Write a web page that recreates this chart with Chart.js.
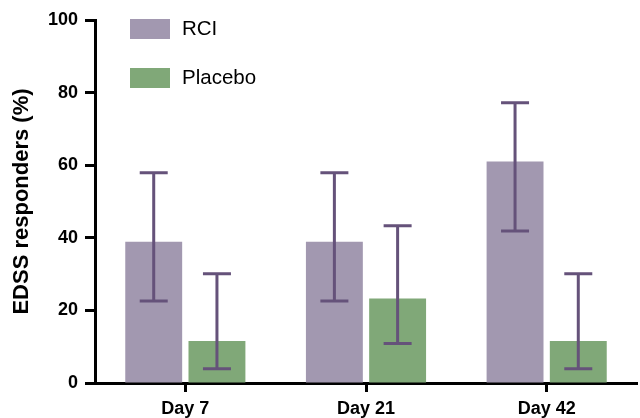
<!DOCTYPE html>
<html>
<head>
<meta charset="utf-8">
<script src="https://cdn.jsdelivr.net/npm/chart.js@4"></script>
<style>
  html, body { margin: 0; padding: 0; background: #fff; }
  #wrap { width: 640px; height: 418px; position: relative; }
</style>
</head>
<body>
<div id="wrap"><canvas id="chart"></canvas></div>
<script>
// data
const DAYS = ["Day 7", "Day 21", "Day 42"];
const RCI = [38.9, 38.9, 61.0];
const RCI_LOW = [22.6, 22.6, 41.9];
const RCI_HIGH = [57.9, 57.9, 77.2];
const PLACEBO = [11.6, 23.3, 11.6];
const PLACEBO_LOW = [3.9, 10.9, 3.9];
const PLACEBO_HIGH = [30.1, 43.3, 30.1];
const Y_TICKS = [0, 20, 40, 60, 80, 100];

const COL_RCI = "#a298b0";
const COL_PLACEBO = "#80a878";
const COL_ERR = "#65527a";
const FONT = "'Liberation Sans', Arial, sans-serif";

// ── Error bars (whiskers with caps) ─────────────────────────────────────────
const errorBars = {
  id: "errorBars",
  afterDatasetsDraw(chart) {
    const { ctx, scales: { y } } = chart;
    const ranges = [[RCI_LOW, RCI_HIGH], [PLACEBO_LOW, PLACEBO_HIGH]];
    ctx.save();
    ctx.strokeStyle = COL_ERR;
    ctx.lineWidth = 3;
    ranges.forEach(([lo, hi], di) => {
      chart.getDatasetMeta(di).data.forEach((bar, i) => {
        const x = bar.x;
        const yl = y.getPixelForValue(lo[i]);
        const yh = y.getPixelForValue(hi[i]);
        ctx.beginPath();
        ctx.moveTo(x, yl); ctx.lineTo(x, yh);
        ctx.moveTo(x - 14, yl); ctx.lineTo(x + 14, yl);
        ctx.moveTo(x - 14, yh); ctx.lineTo(x + 14, yh);
        ctx.stroke();
      });
    });
    ctx.restore();
  }
};

// ── Vertical legend inside the plot ─────────────────────────────────────────
const boxLegend = {
  id: "boxLegend",
  afterDraw(chart) {
    const { ctx } = chart;
    ctx.save();
    ctx.font = "20.5px " + FONT;
    ctx.textBaseline = "middle";
    chart.data.datasets.forEach((ds, i) => {
      const top = 19 + i * 49;
      ctx.fillStyle = ds.backgroundColor;
      ctx.fillRect(130, top, 40, 20);
      ctx.fillStyle = "#000";
      ctx.fillText(ds.label, 182, top + 10);
    });
    ctx.restore();
  }
};

new Chart(document.getElementById("chart"), {
  type: "bar",
  data: {
    labels: DAYS,
    datasets: [
      { label: "RCI", data: RCI, backgroundColor: COL_RCI, borderWidth: 0 },
      { label: "Placebo", data: PLACEBO, backgroundColor: COL_PLACEBO, borderWidth: 0 }
    ]
  },
  options: {
    responsive: true,
    maintainAspectRatio: false,
    animation: false,
    layout: { padding: { top: 20, right: 3, left: 0, bottom: 0 } },
    datasets: { bar: { barPercentage: 0.9, categoryPercentage: 0.7 } },
    scales: {
      x: {
        border: { display: true, color: "#000", width: 3 },
        grid: { display: true, offset: false, drawOnChartArea: false, drawTicks: true, tickLength: 9, tickWidth: 3, tickColor: "#000" },
        ticks: { color: "#000", padding: 6, font: { family: FONT, size: 18, weight: "bold" } },
        afterFit(scale) { scale.height = 35; }
      },
      y: {
        min: 0, max: 100,
        afterBuildTicks(scale) { scale.ticks = Y_TICKS.map(v => ({ value: v })); },
        border: { display: true, color: "#000", width: 3 },
        grid: { display: true, drawOnChartArea: false, drawTicks: true, tickLength: 10, tickWidth: 3, tickColor: "#000" },
        ticks: { color: "#000", padding: 7, font: { family: FONT, size: 18, weight: "bold" } },
        title: {
          display: true, text: "EDSS responders (%)", color: "#000",
          padding: { top: 9, bottom: 4 },
          font: { family: FONT, size: 22, weight: "bold" }
        },
        afterFit(scale) { scale.width = 95; }
      }
    },
    plugins: {
      legend: { display: false },
      tooltip: { enabled: false }
    }
  },
  plugins: [errorBars, boxLegend]
});
</script>
</body>
</html>
